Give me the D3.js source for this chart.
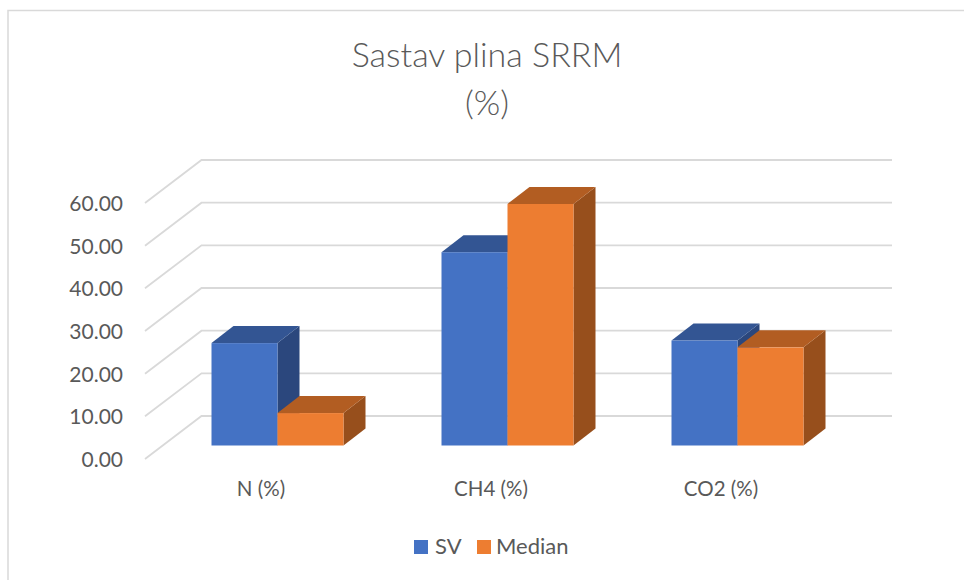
<!DOCTYPE html>
<html><head><meta charset="utf-8">
<script src="https://cdn.jsdelivr.net/npm/d3@7/dist/d3.min.js"></script>
<style>html,body{margin:0;padding:0;background:#fff}svg{display:block}text{font-family:Lato,"Open Sans",sans-serif;fill:#595959}</style>
</head><body><svg id="c" width="964" height="580"></svg>
<script>
const categories = ["N (%)", "CH4 (%)", "CO2 (%)"];
const seriesNames = ["SV", "Median"];
const svValues = [24.0, 45.3, 24.6];
const medianValues = [7.6, 56.6, 23.0];
const yTicks = [0, 10, 20, 30, 40, 50, 60];
const titleLines = ["Sastav plina SRRM", "(%)"];
const colors = {SV:{front:"#4472c4",top:"#335593",side:"#2b477d"},Median:{front:"#ed7d31",top:"#b25d22",side:"#974f1c"}};

const svg = d3.select("#c");
// frame
svg.append("path").attr("d","M8,580V10.5H964").attr("fill","none").attr("stroke","#d9d9d9").attr("stroke-width",1.5);

const y = d3.scaleLinear().domain([0,60]).range([459,203]);
const gridDx = 56.5, gridDy = -43;
const gridFrontX = 145, gridRightX = 892;
const grid = svg.append("g").attr("fill","none").attr("stroke","#d9d9d9").attr("stroke-width",1.8);
yTicks.forEach(t=>{
  const py = y(t);
  grid.append("path").attr("d",`M${gridFrontX},${py}L${gridFrontX+gridDx},${py+gridDy}H${gridRightX}`);
});
yTicks.forEach(t=>{
  svg.append("text").attr("x",123).attr("y",y(t)+0.5).attr("dy","0.36em").attr("text-anchor","end")
    .attr("font-size",21).text(t.toFixed(2));
});

const x0 = d3.scaleBand().domain(categories).range([162.5,852.5]);
const bw = 66;
const baseY = 445.5;
const depthX = 22, depthY = -17;
const unit = y(0)-y(1);
const drawBar = (cx,i,v,c)=>{
  const xl = cx + (i-1)*bw, xr = xl+bw, h = v*unit, yt = baseY-h;
  const g = svg.append("g");
  g.append("path").attr("fill",c.side).attr("d",`M${xr},${yt}l${depthX},${depthY}V${baseY+depthY}L${xr},${baseY}Z`);
  g.append("path").attr("fill",c.top).attr("d",`M${xl},${yt}l${depthX},${depthY}H${xr+depthX}L${xr},${yt}Z`);
  g.append("rect").attr("x",xl).attr("y",yt).attr("width",bw).attr("height",h).attr("fill",c.front);
};
categories.forEach((cat,k)=>{
  const cx = x0(cat)+x0.bandwidth()/2 ;
  drawBar(cx,0,svValues[k],colors.SV);
  drawBar(cx,1,medianValues[k],colors.Median);
  svg.append("text").attr("x",cx-16.5).attr("y",496).attr("text-anchor","middle").attr("font-size",20.5).text(cat);
});

titleLines.forEach((t,i)=>{
  svg.append("text").attr("x",487).attr("y",[67,115][i]).attr("text-anchor","middle")
   .attr("font-size",34).attr("font-weight",300).text(t);
});

const lg = svg.append("g");
[[414,seriesNames[0],435],[477,seriesNames[1],496]].forEach(([sx,name,tx],i)=>{
  lg.append("rect").attr("x",sx).attr("y",540).attr("width",14).attr("height",14).attr("fill",colors[name].front);
  lg.append("text").attr("x",tx).attr("y",554).attr("font-size",22).text(name);
});
</script></body></html>
